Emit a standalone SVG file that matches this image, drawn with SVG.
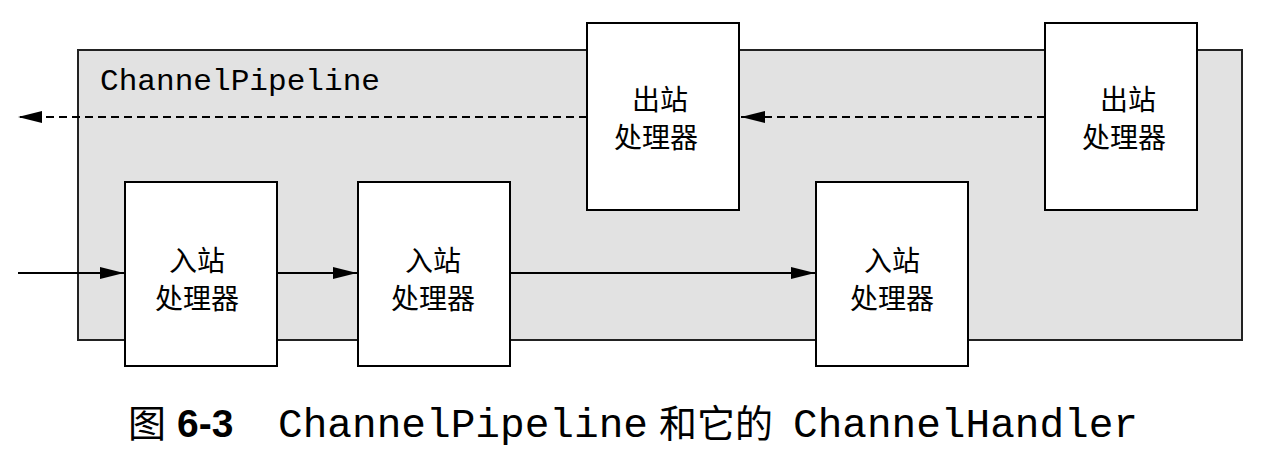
<svg xmlns="http://www.w3.org/2000/svg" width="1276" height="454" viewBox="0 0 1276 454">
<defs>
<style>
.box{fill:#fff;stroke:#000;stroke-width:2}
.cjk{font-family:"Noto Sans CJK SC",sans-serif;font-size:28px;fill:#000;text-anchor:middle}
.mono{font-family:"Liberation Mono",monospace;fill:#000}
.solid{stroke:#000;stroke-width:2;fill:none}
.dash{stroke:#000;stroke-width:2;fill:none;stroke-dasharray:8 5}
</style>
<marker id="ah" markerWidth="24" markerHeight="14" refX="24" refY="7" orient="auto" markerUnits="userSpaceOnUse">
<path d="M0,1 L24,7 L0,13 Z" fill="#000"/>
</marker>
</defs>
<rect width="1276" height="454" fill="#fff"/>
<g id="pipeline">
<rect x="78" y="50" width="1164" height="290" fill="#e2e2e2" stroke="#222" stroke-width="2"/>
<text class="mono" x="100" y="90" font-size="30" textLength="280" lengthAdjust="spacingAndGlyphs">ChannelPipeline</text>
</g>
<g id="connectors">
<line class="dash" x1="1045" y1="117" x2="741" y2="117" marker-end="url(#ah)"/>
<line class="dash" x1="587" y1="117" x2="18" y2="117" marker-end="url(#ah)"/>
<line class="solid" x1="18" y1="273" x2="124" y2="273" marker-end="url(#ah)"/>
<line class="solid" x1="277" y1="273" x2="357" y2="273" marker-end="url(#ah)"/>
<line class="solid" x1="510" y1="273" x2="815" y2="273" marker-end="url(#ah)"/>
</g>
<g id="in1">
<rect class="box" x="125" y="182" width="152" height="184"/>
<text class="cjk" x="197" y="271">入站</text>
<text class="cjk" x="197" y="309">处理器</text>
</g>
<g id="in2">
<rect class="box" x="358" y="182" width="152" height="184"/>
<text class="cjk" x="433" y="271">入站</text>
<text class="cjk" x="433" y="309">处理器</text>
</g>
<g id="in3">
<rect class="box" x="816" y="182" width="152" height="184"/>
<text class="cjk" x="892" y="271">入站</text>
<text class="cjk" x="892" y="309">处理器</text>
</g>
<g id="out1">
<rect class="box" x="587" y="23" width="152" height="187"/>
<text class="cjk" x="660" y="110">出站</text>
<text class="cjk" x="656" y="148">处理器</text>
</g>
<g id="out2">
<rect class="box" x="1045" y="23" width="152" height="187"/>
<text class="cjk" x="1128" y="110">出站</text>
<text class="cjk" x="1124" y="148">处理器</text>
</g>
<g id="caption">
<text x="128" y="437" font-family="Noto Sans CJK SC,sans-serif" font-size="38" fill="#000">图</text>
<text x="177" y="437" font-family="Liberation Sans,sans-serif" font-weight="bold" font-size="39" fill="#000">6-3</text>
<text class="mono" x="278" y="437" font-size="40" textLength="370" lengthAdjust="spacingAndGlyphs">ChannelPipeline</text>
<text x="659" y="437" font-family="Noto Sans CJK SC,sans-serif" font-size="38" fill="#000">和它的</text>
<text class="mono" x="793" y="437" font-size="40" textLength="345" lengthAdjust="spacingAndGlyphs">ChannelHandler</text>
</g>
</svg>
